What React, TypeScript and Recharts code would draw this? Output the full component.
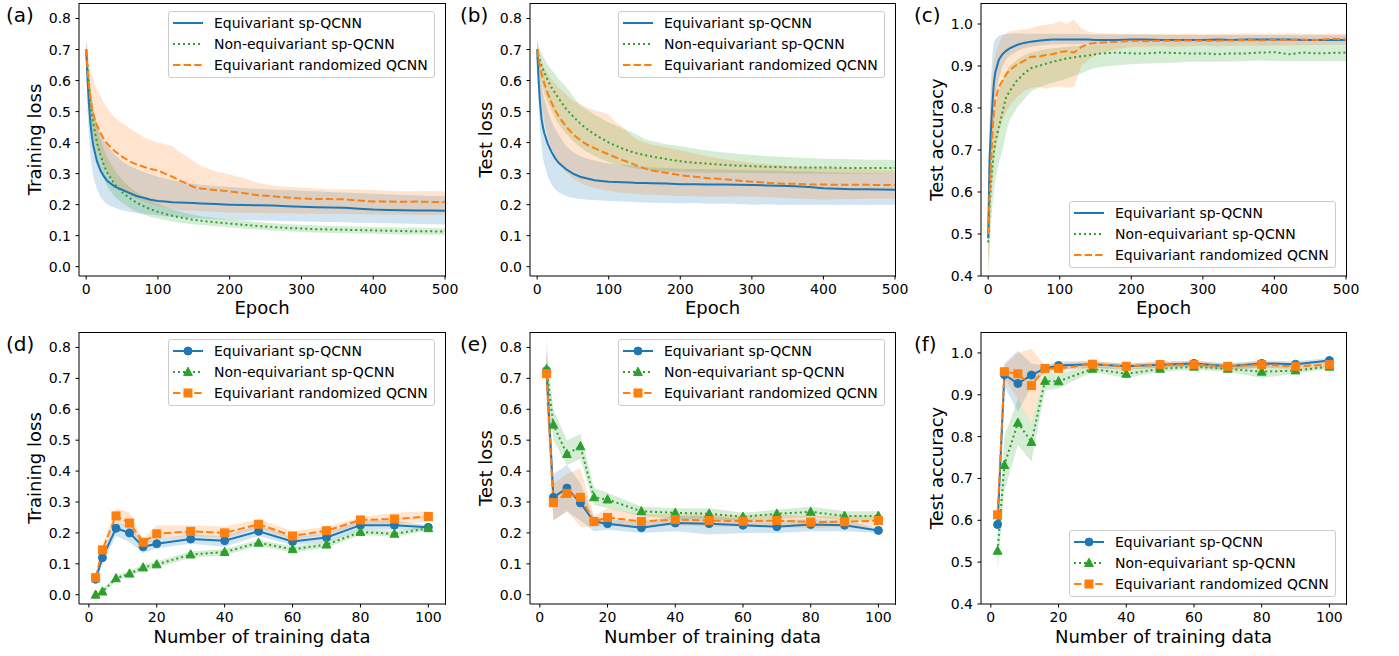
import React from 'react';
import { ComposedChart, Line, Area, XAxis, YAxis, Legend } from 'recharts';

const FONT = '"DejaVu Sans", "Liberation Sans", sans-serif';
const BLUE = '#1f77b4';
const GREEN = '#2ca02c';
const ORANGE = '#ff7f0e';

const seriesNames = ['Equivariant sp-QCNN', 'Non-equivariant sp-QCNN', 'Equivariant randomized QCNN'];
const panelLetters = ['(a)', '(b)', '(c)', '(d)', '(e)', '(f)'];

const epochTicks = [0, 100, 200, 300, 400, 500];
const nTicks = [0, 20, 40, 60, 80, 100];
const lossTicks = [0, 0.1, 0.2, 0.3, 0.4, 0.5, 0.6, 0.7, 0.8];
const accTicks = [0.4, 0.5, 0.6, 0.7, 0.8, 0.9, 1.0];

// ---------- epochs (top row) ----------
const epochs = [0, 2, 4, 6, 8, 10, 15, 20, 25, 30, 40, 50, 60, 70, 80, 90, 100, 110, 120, 130, 140, 150, 160, 180, 200, 220, 240, 260, 280, 300, 320, 340, 360, 380, 400, 420, 440, 460, 480, 500];

// (a) training loss vs epoch
const aEqMean = [0.70, 0.60, 0.52, 0.46, 0.42, 0.39, 0.34, 0.31, 0.29, 0.275, 0.258, 0.248, 0.238, 0.228, 0.222, 0.216, 0.212, 0.21, 0.208, 0.207, 0.206, 0.205, 0.204, 0.202, 0.20, 0.199, 0.198, 0.197, 0.195, 0.193, 0.192, 0.191, 0.19, 0.187, 0.184, 0.183, 0.182, 0.181, 0.181, 0.18];
const aEqLow = [0.68, 0.50, 0.42, 0.36, 0.32, 0.29, 0.25, 0.225, 0.21, 0.20, 0.19, 0.182, 0.177, 0.173, 0.17, 0.168, 0.166, 0.163, 0.161, 0.16, 0.158, 0.157, 0.155, 0.153, 0.151, 0.15, 0.149, 0.148, 0.147, 0.146, 0.145, 0.144, 0.143, 0.142, 0.141, 0.14, 0.139, 0.138, 0.137, 0.136];
const aEqHigh = [0.73, 0.68, 0.62, 0.57, 0.54, 0.51, 0.46, 0.43, 0.405, 0.39, 0.36, 0.34, 0.325, 0.315, 0.305, 0.297, 0.29, 0.284, 0.279, 0.275, 0.27, 0.267, 0.264, 0.26, 0.257, 0.254, 0.251, 0.249, 0.247, 0.245, 0.243, 0.241, 0.239, 0.237, 0.235, 0.233, 0.231, 0.23, 0.228, 0.227];
const aNeMean = [0.70, 0.64, 0.58, 0.53, 0.49, 0.46, 0.40, 0.36, 0.325, 0.30, 0.265, 0.24, 0.222, 0.207, 0.195, 0.185, 0.177, 0.17, 0.164, 0.159, 0.155, 0.151, 0.148, 0.143, 0.139, 0.135, 0.131, 0.128, 0.125, 0.123, 0.121, 0.12, 0.119, 0.118, 0.117, 0.116, 0.115, 0.114, 0.114, 0.113];
const aNeLow = [0.68, 0.60, 0.53, 0.48, 0.44, 0.41, 0.35, 0.31, 0.28, 0.255, 0.225, 0.205, 0.19, 0.178, 0.168, 0.16, 0.155, 0.15, 0.146, 0.142, 0.139, 0.136, 0.134, 0.13, 0.127, 0.123, 0.12, 0.117, 0.114, 0.112, 0.11, 0.109, 0.108, 0.107, 0.106, 0.105, 0.104, 0.104, 0.103, 0.103];
const aNeHigh = [0.72, 0.68, 0.63, 0.58, 0.54, 0.51, 0.45, 0.41, 0.375, 0.35, 0.31, 0.28, 0.258, 0.24, 0.225, 0.212, 0.202, 0.193, 0.185, 0.178, 0.172, 0.167, 0.163, 0.157, 0.152, 0.148, 0.143, 0.14, 0.137, 0.135, 0.133, 0.131, 0.13, 0.129, 0.128, 0.127, 0.126, 0.126, 0.125, 0.124];
const aRdMean = [0.70, 0.63, 0.58, 0.54, 0.51, 0.49, 0.455, 0.43, 0.41, 0.395, 0.372, 0.355, 0.34, 0.33, 0.322, 0.315, 0.31, 0.30, 0.29, 0.278, 0.268, 0.257, 0.252, 0.247, 0.243, 0.237, 0.23, 0.227, 0.223, 0.22, 0.218, 0.218, 0.217, 0.213, 0.21, 0.21, 0.209, 0.21, 0.209, 0.208];
const aRdLow = [0.68, 0.61, 0.55, 0.50, 0.46, 0.43, 0.38, 0.35, 0.32, 0.30, 0.268, 0.248, 0.232, 0.22, 0.21, 0.202, 0.196, 0.19, 0.186, 0.183, 0.181, 0.18, 0.179, 0.177, 0.175, 0.174, 0.173, 0.172, 0.172, 0.171, 0.171, 0.17, 0.17, 0.169, 0.168, 0.168, 0.168, 0.167, 0.167, 0.167];
const aRdHigh = [0.74, 0.70, 0.67, 0.64, 0.62, 0.60, 0.57, 0.55, 0.525, 0.51, 0.48, 0.462, 0.448, 0.432, 0.418, 0.408, 0.40, 0.395, 0.39, 0.37, 0.356, 0.34, 0.325, 0.307, 0.297, 0.285, 0.27, 0.262, 0.258, 0.255, 0.252, 0.25, 0.25, 0.248, 0.247, 0.245, 0.243, 0.243, 0.244, 0.243];

// (b) test loss vs epoch
const bEqMean = [0.70, 0.60, 0.53, 0.48, 0.45, 0.43, 0.395, 0.37, 0.35, 0.335, 0.315, 0.30, 0.29, 0.284, 0.279, 0.276, 0.274, 0.273, 0.272, 0.271, 0.27, 0.27, 0.269, 0.268, 0.266, 0.266, 0.265, 0.265, 0.264, 0.263, 0.262, 0.261, 0.259, 0.257, 0.253, 0.251, 0.25, 0.25, 0.249, 0.248];
const bEqLow = [0.68, 0.52, 0.44, 0.39, 0.35, 0.33, 0.29, 0.265, 0.25, 0.24, 0.228, 0.222, 0.218, 0.216, 0.215, 0.213, 0.212, 0.211, 0.21, 0.209, 0.208, 0.207, 0.206, 0.205, 0.204, 0.205, 0.203, 0.204, 0.202, 0.2, 0.201, 0.199, 0.2, 0.2, 0.2, 0.199, 0.2, 0.199, 0.2, 0.2];
const bEqHigh = [0.73, 0.68, 0.63, 0.59, 0.56, 0.54, 0.50, 0.47, 0.445, 0.425, 0.39, 0.37, 0.357, 0.348, 0.342, 0.337, 0.333, 0.33, 0.328, 0.326, 0.324, 0.322, 0.32, 0.318, 0.316, 0.315, 0.314, 0.313, 0.312, 0.311, 0.31, 0.309, 0.308, 0.307, 0.305, 0.304, 0.303, 0.302, 0.301, 0.30];
const bNeMean = [0.70, 0.68, 0.665, 0.65, 0.638, 0.626, 0.60, 0.578, 0.56, 0.543, 0.51, 0.485, 0.462, 0.443, 0.427, 0.413, 0.40, 0.39, 0.38, 0.372, 0.365, 0.36, 0.355, 0.347, 0.34, 0.335, 0.332, 0.328, 0.326, 0.324, 0.322, 0.321, 0.32, 0.32, 0.32, 0.319, 0.318, 0.318, 0.318, 0.318];
const bNeLow = [0.68, 0.64, 0.615, 0.595, 0.575, 0.56, 0.53, 0.505, 0.48, 0.46, 0.43, 0.405, 0.385, 0.37, 0.357, 0.346, 0.337, 0.33, 0.325, 0.32, 0.316, 0.313, 0.31, 0.307, 0.305, 0.304, 0.303, 0.303, 0.302, 0.302, 0.301, 0.301, 0.30, 0.30, 0.30, 0.30, 0.30, 0.30, 0.30, 0.30];
const bNeHigh = [0.73, 0.71, 0.70, 0.69, 0.68, 0.67, 0.65, 0.635, 0.62, 0.605, 0.58, 0.55, 0.52, 0.505, 0.49, 0.478, 0.465, 0.455, 0.445, 0.435, 0.425, 0.412, 0.405, 0.395, 0.388, 0.38, 0.374, 0.368, 0.364, 0.36, 0.357, 0.354, 0.352, 0.35, 0.348, 0.347, 0.346, 0.345, 0.345, 0.344];
const bRdMean = [0.70, 0.67, 0.645, 0.625, 0.607, 0.59, 0.558, 0.53, 0.505, 0.485, 0.453, 0.427, 0.408, 0.393, 0.382, 0.372, 0.362, 0.352, 0.343, 0.335, 0.325, 0.317, 0.31, 0.303, 0.295, 0.29, 0.285, 0.282, 0.278, 0.274, 0.271, 0.268, 0.267, 0.265, 0.265, 0.264, 0.264, 0.264, 0.263, 0.263];
const bRdLow = [0.68, 0.62, 0.57, 0.53, 0.50, 0.47, 0.42, 0.38, 0.355, 0.335, 0.305, 0.285, 0.27, 0.26, 0.254, 0.249, 0.245, 0.241, 0.238, 0.236, 0.234, 0.233, 0.232, 0.23, 0.228, 0.227, 0.226, 0.226, 0.227, 0.226, 0.224, 0.222, 0.22, 0.218, 0.216, 0.217, 0.218, 0.219, 0.219, 0.22];
const bRdHigh = [0.74, 0.70, 0.68, 0.665, 0.65, 0.64, 0.62, 0.605, 0.59, 0.578, 0.555, 0.535, 0.525, 0.512, 0.505, 0.498, 0.49, 0.465, 0.45, 0.425, 0.41, 0.40, 0.393, 0.385, 0.375, 0.365, 0.355, 0.347, 0.34, 0.335, 0.33, 0.327, 0.324, 0.321, 0.32, 0.318, 0.316, 0.314, 0.312, 0.31];

// (c) test accuracy vs epoch
const cEqMean = [0.49, 0.68, 0.75, 0.81, 0.86, 0.885, 0.915, 0.928, 0.936, 0.942, 0.95, 0.955, 0.958, 0.96, 0.962, 0.963, 0.963, 0.963, 0.963, 0.963, 0.963, 0.962, 0.962, 0.962, 0.963, 0.963, 0.962, 0.962, 0.962, 0.962, 0.963, 0.962, 0.963, 0.963, 0.963, 0.963, 0.962, 0.962, 0.962, 0.962];
const cEqLow = [0.45, 0.60, 0.68, 0.74, 0.79, 0.83, 0.87, 0.90, 0.915, 0.925, 0.935, 0.942, 0.946, 0.948, 0.95, 0.951, 0.952, 0.952, 0.952, 0.952, 0.952, 0.951, 0.952, 0.951, 0.952, 0.952, 0.951, 0.951, 0.952, 0.951, 0.952, 0.951, 0.952, 0.951, 0.952, 0.952, 0.951, 0.951, 0.951, 0.951];
const cEqHigh = [0.53, 0.78, 0.87, 0.93, 0.955, 0.965, 0.972, 0.975, 0.976, 0.977, 0.978, 0.977, 0.977, 0.977, 0.977, 0.977, 0.976, 0.976, 0.976, 0.976, 0.975, 0.975, 0.975, 0.975, 0.975, 0.975, 0.974, 0.974, 0.974, 0.974, 0.974, 0.974, 0.974, 0.974, 0.974, 0.974, 0.974, 0.974, 0.973, 0.973];
const cNeMean = [0.48, 0.56, 0.62, 0.66, 0.695, 0.72, 0.755, 0.79, 0.825, 0.84, 0.865, 0.882, 0.895, 0.90, 0.905, 0.91, 0.914, 0.918, 0.921, 0.923, 0.925, 0.928, 0.93, 0.932, 0.93, 0.93, 0.932, 0.931, 0.93, 0.93, 0.928, 0.93, 0.93, 0.932, 0.933, 0.928, 0.932, 0.93, 0.931, 0.932];
const cNeLow = [0.40, 0.45, 0.52, 0.57, 0.60, 0.63, 0.67, 0.70, 0.74, 0.77, 0.80, 0.82, 0.84, 0.848, 0.855, 0.86, 0.865, 0.87, 0.876, 0.882, 0.89, 0.895, 0.898, 0.902, 0.904, 0.906, 0.907, 0.908, 0.91, 0.91, 0.91, 0.911, 0.912, 0.913, 0.912, 0.912, 0.912, 0.912, 0.912, 0.912];
const cNeHigh = [0.55, 0.66, 0.72, 0.76, 0.79, 0.81, 0.84, 0.865, 0.885, 0.90, 0.915, 0.925, 0.932, 0.936, 0.94, 0.942, 0.944, 0.946, 0.947, 0.948, 0.949, 0.95, 0.951, 0.951, 0.951, 0.952, 0.952, 0.952, 0.952, 0.952, 0.952, 0.952, 0.952, 0.952, 0.953, 0.952, 0.952, 0.952, 0.952, 0.952];
const cRdMean = [0.50, 0.60, 0.67, 0.74, 0.79, 0.82, 0.85, 0.865, 0.88, 0.89, 0.903, 0.912, 0.922, 0.922, 0.926, 0.928, 0.933, 0.935, 0.932, 0.945, 0.953, 0.955, 0.956, 0.958, 0.96, 0.959, 0.96, 0.96, 0.961, 0.96, 0.96, 0.961, 0.962, 0.961, 0.962, 0.962, 0.963, 0.962, 0.965, 0.963];
const cRdLow = [0.42, 0.50, 0.58, 0.63, 0.67, 0.70, 0.74, 0.77, 0.79, 0.805, 0.825, 0.84, 0.848, 0.85, 0.845, 0.85, 0.852, 0.848, 0.85, 0.90, 0.915, 0.925, 0.932, 0.94, 0.945, 0.946, 0.947, 0.946, 0.947, 0.948, 0.947, 0.948, 0.948, 0.948, 0.949, 0.949, 0.95, 0.95, 0.951, 0.951];
const cRdHigh = [0.58, 0.75, 0.83, 0.88, 0.91, 0.93, 0.955, 0.97, 0.978, 0.982, 0.985, 0.987, 0.99, 0.995, 0.998, 1.0, 1.008, 1.0, 1.01, 0.99, 0.982, 0.978, 0.978, 0.977, 0.977, 0.976, 0.977, 0.976, 0.977, 0.976, 0.977, 0.977, 0.978, 0.977, 0.977, 0.978, 0.977, 0.976, 0.977, 0.977];

// ---------- number of training data (bottom row) ----------
const nTrain = [2, 4, 8, 12, 16, 20, 30, 40, 50, 60, 70, 80, 90, 100];

// (d) training loss
const dEqMean = [0.05, 0.12, 0.215, 0.20, 0.155, 0.165, 0.18, 0.175, 0.205, 0.172, 0.185, 0.225, 0.225, 0.218];
const dEqLow = [0.03, 0.10, 0.19, 0.17, 0.135, 0.15, 0.165, 0.155, 0.19, 0.16, 0.17, 0.21, 0.21, 0.21];
const dEqHigh = [0.065, 0.135, 0.235, 0.22, 0.17, 0.18, 0.195, 0.19, 0.225, 0.185, 0.20, 0.24, 0.24, 0.225];
const dNeMean = [0.0, 0.01, 0.053, 0.068, 0.088, 0.098, 0.13, 0.138, 0.168, 0.147, 0.162, 0.203, 0.197, 0.215];
const dNeLow = [-0.005, 0.003, 0.045, 0.06, 0.078, 0.088, 0.12, 0.128, 0.158, 0.137, 0.152, 0.193, 0.188, 0.207];
const dNeHigh = [0.005, 0.018, 0.062, 0.077, 0.098, 0.108, 0.14, 0.148, 0.178, 0.157, 0.172, 0.213, 0.206, 0.223];
const dRdMean = [0.055, 0.145, 0.255, 0.232, 0.17, 0.197, 0.205, 0.20, 0.228, 0.19, 0.207, 0.242, 0.245, 0.253];
const dRdLow = [0.045, 0.13, 0.235, 0.21, 0.16, 0.18, 0.19, 0.185, 0.215, 0.18, 0.195, 0.23, 0.23, 0.235];
const dRdHigh = [0.065, 0.16, 0.28, 0.265, 0.18, 0.225, 0.225, 0.22, 0.245, 0.205, 0.22, 0.25, 0.265, 0.27];

// (e) test loss
const eEqMean = [0.725, 0.315, 0.345, 0.297, 0.237, 0.23, 0.217, 0.232, 0.23, 0.225, 0.22, 0.227, 0.225, 0.208];
const eEqLow = [0.63, 0.24, 0.27, 0.24, 0.205, 0.21, 0.20, 0.205, 0.195, 0.20, 0.20, 0.205, 0.205, 0.20];
const eEqHigh = [0.80, 0.39, 0.42, 0.36, 0.25, 0.245, 0.235, 0.255, 0.255, 0.245, 0.24, 0.245, 0.24, 0.215];
const eNeMean = [0.73, 0.55, 0.455, 0.48, 0.315, 0.308, 0.27, 0.265, 0.262, 0.252, 0.262, 0.268, 0.255, 0.255];
const eNeLow = [0.68, 0.50, 0.42, 0.44, 0.29, 0.28, 0.255, 0.245, 0.245, 0.24, 0.245, 0.25, 0.24, 0.24];
const eNeHigh = [0.79, 0.60, 0.50, 0.52, 0.345, 0.33, 0.285, 0.28, 0.28, 0.265, 0.275, 0.285, 0.27, 0.27];
const eRdMean = [0.715, 0.298, 0.328, 0.315, 0.237, 0.25, 0.237, 0.243, 0.24, 0.238, 0.24, 0.235, 0.236, 0.24];
const eRdLow = [0.60, 0.24, 0.27, 0.22, 0.22, 0.225, 0.22, 0.225, 0.22, 0.22, 0.22, 0.215, 0.22, 0.22];
const eRdHigh = [0.84, 0.36, 0.39, 0.41, 0.255, 0.28, 0.26, 0.26, 0.26, 0.255, 0.26, 0.255, 0.255, 0.255];

// (f) test accuracy
const fEqMean = [0.59, 0.948, 0.927, 0.947, 0.963, 0.97, 0.973, 0.968, 0.972, 0.975, 0.968, 0.975, 0.973, 0.982];
const fEqLow = [0.57, 0.92, 0.86, 0.92, 0.955, 0.96, 0.965, 0.96, 0.965, 0.968, 0.96, 0.965, 0.965, 0.975];
const fEqHigh = [0.61, 0.975, 1.005, 0.975, 0.97, 0.98, 0.98, 0.975, 0.978, 0.982, 0.975, 0.982, 0.98, 0.988];
const fNeMean = [0.527, 0.732, 0.833, 0.787, 0.933, 0.932, 0.962, 0.95, 0.962, 0.967, 0.962, 0.955, 0.958, 0.967];
const fNeLow = [0.48, 0.67, 0.78, 0.74, 0.91, 0.915, 0.955, 0.94, 0.955, 0.96, 0.955, 0.94, 0.95, 0.962];
const fNeHigh = [0.56, 0.80, 0.89, 0.83, 0.955, 0.95, 0.97, 0.96, 0.97, 0.975, 0.97, 0.968, 0.965, 0.972];
const fRdMean = [0.613, 0.955, 0.95, 0.922, 0.963, 0.963, 0.973, 0.968, 0.972, 0.972, 0.968, 0.972, 0.968, 0.972];
const fRdLow = [0.60, 0.94, 0.89, 0.83, 0.955, 0.955, 0.965, 0.96, 0.965, 0.965, 0.96, 0.965, 0.96, 0.965];
const fRdHigh = [0.63, 0.97, 1.0, 1.01, 0.97, 0.975, 0.98, 0.975, 0.98, 0.98, 0.975, 0.98, 0.975, 0.98];

// ---------- styling ----------
type MarkerKind = 'circle' | 'triangle' | 'square';
const STYLES: { color: string; dash?: string; marker: MarkerKind }[] = [
  { color: BLUE, dash: undefined, marker: 'circle' },
  { color: GREEN, dash: '2 3', marker: 'triangle' },
  { color: ORANGE, dash: '7.4 3.2', marker: 'square' },
];

function buildRows(x: number[], series: number[][][]) {
  return x.map((xv, i) => {
    const row: any = { x: xv };
    series.forEach((s, k) => {
      row['m' + k] = s[0][i];
      row['b' + k] = [s[1][i], s[2][i]];
    });
    return row;
  });
}

const rowsA = buildRows(epochs, [[aEqMean, aEqLow, aEqHigh], [aNeMean, aNeLow, aNeHigh], [aRdMean, aRdLow, aRdHigh]]);
const rowsB = buildRows(epochs, [[bEqMean, bEqLow, bEqHigh], [bNeMean, bNeLow, bNeHigh], [bRdMean, bRdLow, bRdHigh]]);
const rowsC = buildRows(epochs, [[cEqMean, cEqLow, cEqHigh], [cNeMean, cNeLow, cNeHigh], [cRdMean, cRdLow, cRdHigh]]);
const rowsD = buildRows(nTrain, [[dEqMean, dEqLow, dEqHigh], [dNeMean, dNeLow, dNeHigh], [dRdMean, dRdLow, dRdHigh]]);
const rowsE = buildRows(nTrain, [[eEqMean, eEqLow, eEqHigh], [eNeMean, eNeLow, eNeHigh], [eRdMean, eRdLow, eRdHigh]]);
const rowsF = buildRows(nTrain, [[fEqMean, fEqLow, fEqHigh], [fNeMean, fNeLow, fNeHigh], [fRdMean, fRdLow, fRdHigh]]);

function Marker({ kind, cx, cy, color }: { kind: MarkerKind; cx: number; cy: number; color: string }) {
  if (kind === 'circle') return <circle cx={cx} cy={cy} r={4} fill={color} stroke={color} strokeWidth={1} />;
  if (kind === 'square') return <rect x={cx - 4} y={cy - 4} width={8} height={8} fill={color} stroke={color} strokeWidth={1} />;
  return (
    <polygon
      points={`${cx},${cy - 4.8} ${cx - 4.4},${cy + 3.4} ${cx + 4.4},${cy + 3.4}`}
      fill={color}
      stroke={color}
      strokeWidth={1}
    />
  );
}

function LegendBox({ markers }: { markers: boolean }) {
  return (
    <div
      style={{
        background: 'rgba(255,255,255,0.8)',
        border: '1px solid #cccccc',
        borderRadius: 3,
        padding: '0px 6px 2px 4px',
        fontFamily: FONT,
        fontSize: 14,
        color: '#000',
        whiteSpace: 'nowrap',
      }}
    >
      {seriesNames.map((name, k) => (
        <div key={name} style={{ display: 'flex', alignItems: 'center', height: 21 }}>
          <svg width={30} height={12} style={{ marginRight: 11, flex: 'none', display: 'block' }}>
            <line x1={0} x2={30} y1={6} y2={6} stroke={STYLES[k].color} strokeWidth={2} strokeDasharray={STYLES[k].dash} />
            {markers && <Marker kind={STYLES[k].marker} cx={15} cy={6} color={STYLES[k].color} />}
          </svg>
          <span>{name}</span>
        </div>
      ))}
    </div>
  );
}

const YW = 75;
const MT = 5;
const MR = 16;
const XH = 45;

type Box = { x: number; y: number; w: number; h: number };

type PanelProps = {
  box: Box;
  rows: any[];
  xDomain: [number, number];
  xTicks: number[];
  yDomain: [number, number];
  yTicks: number[];
  xLabel: string;
  yLabel: string;
  xLabelOffset: number;
  markers: boolean;
  legendAt: { x: number; y: number };
};

function Panel(p: PanelProps) {
  const left = p.box.x - YW;
  const top = p.box.y - MT;
  const W = YW + p.box.w + MR;
  const H = MT + p.box.h + XH;
  const tickStyle = { fontSize: 14, fill: '#000', fontFamily: FONT };
  const yLabelContent = (props: any) => {
    const vb = props.viewBox || { x: 0, y: MT, width: YW, height: p.box.h };
    const cx = vb.x + 36.5;
    const cy = vb.y + vb.height / 2;
    return (
      <text x={cx} y={cy} transform={`rotate(-90 ${cx} ${cy})`} textAnchor="middle" fontSize={18} fontFamily={FONT} fill="#000">
        {p.yLabel}
      </text>
    );
  };
  return (
    <div style={{ position: 'absolute', left, top, width: W, height: H }}>
      <ComposedChart width={W} height={H} data={p.rows} margin={{ top: MT, right: MR, bottom: 0, left: 0 }}>
        <XAxis
          xAxisId={0}
          type="number"
          dataKey="x"
          domain={p.xDomain}
          ticks={p.xTicks}
          interval={0}
          allowDataOverflow
          height={XH}
          tickSize={3.5}
          tickMargin={4.5}
          tick={tickStyle}
          axisLine={{ stroke: '#000', strokeWidth: 1 }}
          tickLine={{ stroke: '#000', strokeWidth: 1 }}
          label={{ value: p.xLabel, position: 'insideBottom', offset: p.xLabelOffset, fontSize: 18, fill: '#000', fontFamily: FONT }}
        />
        <YAxis
          yAxisId={0}
          type="number"
          domain={p.yDomain}
          ticks={p.yTicks}
          interval={0}
          allowDataOverflow
          width={YW}
          tickSize={3.5}
          tickMargin={4.5}
          tick={tickStyle}
          tickFormatter={(v: number) => v.toFixed(1)}
          axisLine={{ stroke: '#000', strokeWidth: 1 }}
          tickLine={{ stroke: '#000', strokeWidth: 1 }}
          label={{ content: yLabelContent }}
        />
        {STYLES.map((s, k) => (
          <Area
            key={'band' + k}
            xAxisId={0}
            yAxisId={0}
            type="linear"
            dataKey={'b' + k}
            stroke="none"
            fill={s.color}
            fillOpacity={0.2}
            dot={false}
            activeDot={false}
            isAnimationActive={false}
            legendType="none"
          />
        ))}
        {STYLES.map((s, k) => (
          <Line
            key={'line' + k}
            xAxisId={0}
            yAxisId={0}
            type="linear"
            dataKey={'m' + k}
            name={seriesNames[k]}
            stroke={s.color}
            strokeWidth={2}
            strokeDasharray={s.dash}
            isAnimationActive={false}
            activeDot={false}
            dot={
              p.markers
                ? (dp: any) =>
                    dp.cx == null || dp.cy == null ? (
                      <g key={'d' + k + '-' + dp.index} />
                    ) : (
                      <Marker key={'d' + k + '-' + dp.index} kind={s.marker} cx={dp.cx} cy={dp.cy} color={s.color} />
                    )
                : false
            }
          />
        ))}
        <Legend
          layout="vertical"
          align="center"
          verticalAlign="middle"
          content={() => <LegendBox markers={p.markers} />}
          wrapperStyle={{ left: p.legendAt.x - left, top: p.legendAt.y - top, width: 'auto', height: 'auto' }}
        />
      </ComposedChart>
      <div
        style={{
          position: 'absolute',
          left: YW,
          top: MT,
          width: p.box.w + 1,
          height: p.box.h + 1,
          borderTop: '1px solid #000',
          borderRight: '1px solid #000',
          boxSizing: 'border-box',
          pointerEvents: 'none',
          zIndex: 5,
        }}
      />
    </div>
  );
}

const letterPos = [
  { x: 6, y: 22 },
  { x: 460, y: 22 },
  { x: 914, y: 22 },
  { x: 6, y: 350.5 },
  { x: 460, y: 350.5 },
  { x: 914, y: 350.5 },
];

const boxes: Box[] = [
  { x: 79, y: 3, w: 366, h: 273 },
  { x: 530, y: 3, w: 365, h: 273 },
  { x: 981, y: 3, w: 365, h: 273 },
  { x: 79, y: 332, w: 366, h: 272 },
  { x: 530, y: 332, w: 365, h: 272 },
  { x: 981, y: 332, w: 365, h: 272 },
];

export default function App() {
  const epochDomain: [number, number] = [-10, 500];
  const nDomain: [number, number] = [-2.9, 104.9];
  const lossDomain: [number, number] = [-0.03, 0.85];
  const accDomain: [number, number] = [0.4, 1.05];
  return (
    <div style={{ position: 'absolute', left: 0, top: 0, width: 1399, height: 656, background: '#fff', overflow: 'hidden' }}>
      <Panel box={boxes[0]} rows={rowsA} xDomain={epochDomain} xTicks={epochTicks} yDomain={lossDomain} yTicks={lossTicks} xLabel="Epoch" yLabel="Training loss" xLabelOffset={7} markers={false} legendAt={{ x: 168, y: 11 }} />
      <Panel box={boxes[1]} rows={rowsB} xDomain={epochDomain} xTicks={epochTicks} yDomain={lossDomain} yTicks={lossTicks} xLabel="Epoch" yLabel="Test loss" xLabelOffset={7} markers={false} legendAt={{ x: 618, y: 11 }} />
      <Panel box={boxes[2]} rows={rowsC} xDomain={epochDomain} xTicks={epochTicks} yDomain={accDomain} yTicks={accTicks} xLabel="Epoch" yLabel="Test accuracy" xLabelOffset={7} markers={false} legendAt={{ x: 1069, y: 201 }} />
      <Panel box={boxes[3]} rows={rowsD} xDomain={nDomain} xTicks={nTicks} yDomain={lossDomain} yTicks={lossTicks} xLabel="Number of training data" yLabel="Training loss" xLabelOffset={6} markers={true} legendAt={{ x: 168, y: 339 }} />
      <Panel box={boxes[4]} rows={rowsE} xDomain={nDomain} xTicks={nTicks} yDomain={lossDomain} yTicks={lossTicks} xLabel="Number of training data" yLabel="Test loss" xLabelOffset={6} markers={true} legendAt={{ x: 618, y: 339 }} />
      <Panel box={boxes[5]} rows={rowsF} xDomain={nDomain} xTicks={nTicks} yDomain={accDomain} yTicks={accTicks} xLabel="Number of training data" yLabel="Test accuracy" xLabelOffset={6} markers={true} legendAt={{ x: 1069, y: 530 }} />
      <svg width={1399} height={656} style={{ position: 'absolute', left: 0, top: 0, pointerEvents: 'none', zIndex: 6 }}>
        {panelLetters.map((t, i) => (
          <text key={t} x={letterPos[i].x} y={letterPos[i].y} fontSize={20} fontFamily={FONT} fill="#000">
            {t}
          </text>
        ))}
      </svg>
    </div>
  );
}
